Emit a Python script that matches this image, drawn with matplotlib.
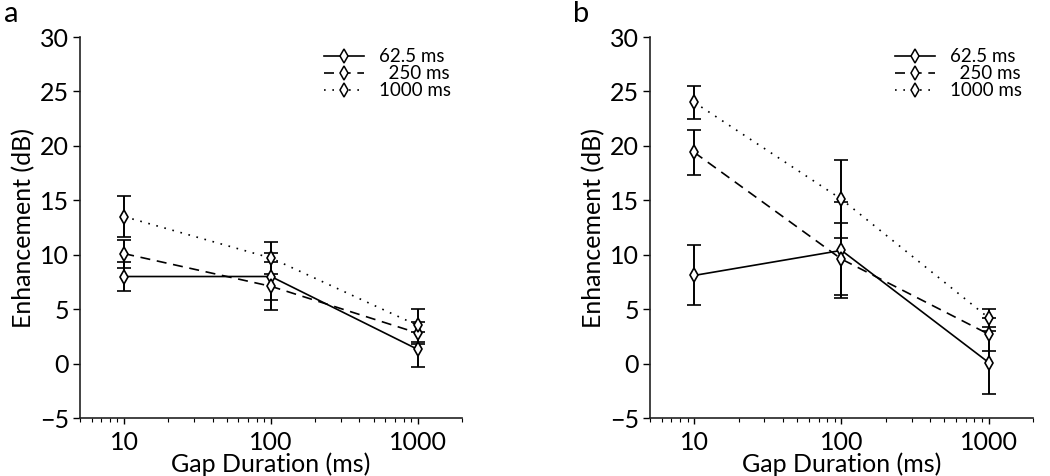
import matplotlib
matplotlib.use("Agg")
import matplotlib.pyplot as plt
from matplotlib.lines import Line2D
from matplotlib.ticker import LogLocator, NullFormatter, FixedLocator, FixedFormatter

plt.rcParams['font.family'] = ['Lato', 'DejaVu Sans']

# gap durations (ms)
gaps = [10, 100, 1000]
series_labels = ['62.5 ms', '  250 ms', '1000 ms']
styles = ['-', (0, (6, 4)), (0, (1, 4))]

# panel a: mean enhancement (dB) and error
a_means = [[8.0, 8.0, 1.3],
           [10.1, 7.1, 2.8],
           [13.5, 9.7, 3.5]]
a_errs = [[1.3, 2.2, 1.6],
          [1.3, 2.2, 1.0],
          [1.9, 1.5, 1.5]]

# panel b
b_means = [[8.1, 10.4, 0.1],
           [19.4, 9.6, 2.7],
           [24.0, 15.1, 4.2]]
b_errs = [[2.75, 4.4, 2.9],
          [2.05, 3.3, 1.5],
          [1.5, 3.6, 0.8]]

fig = plt.figure(figsize=(10.5, 4.76), dpi=100)
ax_a = fig.add_axes([0.0762, 0.1218, 0.3638, 0.8004])
ax_b = fig.add_axes([0.619, 0.1218, 0.3648, 0.8004])

def draw_panel(ax, means, errs, letter):
    for m, e, ls in zip(means, errs, styles):
        ax.errorbar(gaps, m, yerr=e, color='black', linestyle=ls, linewidth=1.2,
                    marker='d', markersize=7.5, markerfacecolor='white',
                    markeredgecolor='black', markeredgewidth=1.2,
                    ecolor='black', elinewidth=1.4, capsize=5, capthick=1.4)
    ax.set_xscale('log')
    ax.set_xlim(5, 2000)
    ax.set_ylim(-5, 30)
    ax.set_yticks(range(-5, 31, 5))
    ax.set_yticklabels(['\u22125', '0', '5', '10', '15', '20', '25', '30'])
    ax.xaxis.set_major_locator(FixedLocator(gaps))
    ax.xaxis.set_major_formatter(FixedFormatter(['10', '100', '1000']))
    ax.xaxis.set_minor_locator(LogLocator(base=10, subs=range(2, 10)))
    ax.xaxis.set_minor_formatter(NullFormatter())
    for s in ['top', 'right']:
        ax.spines[s].set_visible(False)
    for s in ['left', 'bottom']:
        ax.spines[s].set_linewidth(1.2)
        ax.spines[s].set_color('#222222')
    ax.tick_params(axis='y', direction='out', length=5, width=1.0, labelsize=18, pad=3)
    ax.tick_params(axis='x', which='major', direction='out', length=4, width=1.0,
                   labelsize=18, pad=5)
    ax.tick_params(axis='x', which='minor', direction='out', length=3, width=0.8)
    ax.set_xlabel('Gap Duration (ms)', fontsize=18, labelpad=-1)
    ax.set_ylabel('Enhancement (dB)', fontsize=18, labelpad=3)
    ax.text(-0.2, 1.06, letter, transform=ax.transAxes, fontsize=21,
            ha='left', va='center')

    handles = [Line2D([0], [0], color='black', linestyle=ls, linewidth=1.2,
                      marker='d', markersize=7, markerfacecolor='white',
                      markeredgecolor='black', markeredgewidth=1.1)
               for ls in styles]
    ax.legend(handles, series_labels, loc='upper right', bbox_to_anchor=(1.0, 1.0),
              frameon=False, fontsize=13.5, handlelength=2.1, handletextpad=0.8,
              labelspacing=0.0, borderaxespad=0.2)

draw_panel(ax_a, a_means, a_errs, 'a')
draw_panel(ax_b, b_means, b_errs, 'b')

fig.savefig('out.png', dpi=100)
